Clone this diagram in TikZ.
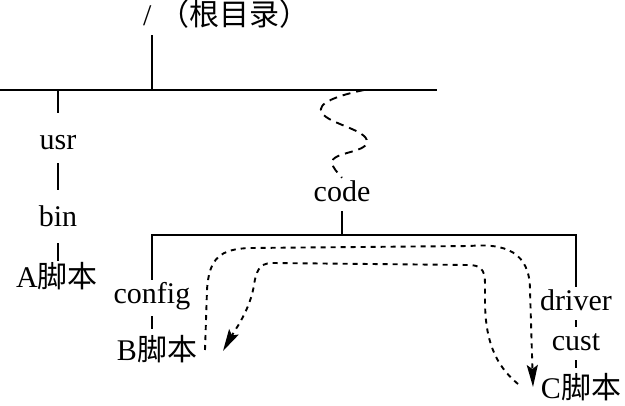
\documentclass[tikz,border=0pt]{standalone}
\usepackage{fontspec}
\setmainfont{Liberation Serif}
\newfontfamily\cjk{Noto Sans CJK SC}
\usetikzlibrary{arrows.meta}
\begin{document}
\begin{tikzpicture}[x=1pt,y=-1pt,
  lbl/.style={font=\fontsize{30}{36}\selectfont, inner xsep=2pt, inner ysep=3pt,
              text height=21pt, text depth=6pt, anchor=base},
  tree/.style={line width=2pt},
  dotpath/.style={line width=1.9pt, dash pattern=on 5pt off 5pt},
  wavy/.style={line width=1.9pt, dash pattern=on 8pt off 6pt},
  tipend/.style={-{Stealth[length=22pt,width=11pt,inset=4pt]}}]
\useasboundingbox (0,0) rectangle (625,406);
% root
\node[lbl, anchor=base west] (root) at (141,26) {/ {\cjk （根目录）}};
\coordinate (bl) at (0,90);
\coordinate (br) at (437,90);
\coordinate (rj) at (152,90);
\coordinate (uj) at (58,90);
\coordinate (w0) at (364,90);
\draw[tree] (bl) -- (br);
\draw[tree] (rj) -- (rj |- root.south);
% usr branch
\node[lbl] (usr) at (58,150) {usr};
\node[lbl] (bin) at (58,227) {bin};
\node[lbl] (A) at (57,288) {A{\cjk 脚本}};
\draw[tree, shorten >=13pt] (uj) -- (usr.north);
\draw[tree, shorten <=4pt, shorten >=13pt] (usr.south) -- (bin.north);
\draw[tree, shorten <=7pt, shorten >=3pt] (bin.south) -- (bin.south |- A.north);
% code branch
\node[lbl] (code) at (342,202) {code};
\draw[wavy] (w0) .. controls (340,95) and (315,103) .. (322,113)
  .. controls (329,124) and (368,130) .. (367,142)
  .. controls (366,153) and (331,152) .. (332,163)
  .. controls (333,168) and (337,172) .. (code.north);
\coordinate (cl) at (152,235);
\coordinate (cr) at (576,235);
\node[lbl] (config) at (152,304) {config};
\node[lbl] (B) at (157,361) {B{\cjk 脚本}};
\node[lbl] (driver) at (576,311) {driver};
\node[lbl] (cust) at (576,351) {cust};
\node[lbl] (C) at (581,399) {C{\cjk 脚本}};
\draw[tree] (code.south) -- (code.south |- cl);
\draw[tree] (config.north) -- (cl) -- (cr) -- (driver.north);
\draw[tree, shorten <=3pt, shorten >=8pt] (config.south) -- (config.south |- B.north);
\draw[tree] (driver.south) -- (cust.north);
\draw[tree, shorten >=7pt] (cust.south) -- (cust.south |- C.north);
% dotted paths
\coordinate (os) at (205,350);
\coordinate (ot) at (533,387);
\coordinate (is) at (518,384);
\coordinate (it) at (223,351);
\draw[dotpath, tipend] (os) -- (207,290) .. controls (209,258) and (220,249) .. (250,248)
  -- (470,246) .. controls (505,243) and (530,252) .. (530,290) -- (ot);
\draw[dotpath, tipend] (is) .. controls (495,365) and (485,340) .. (485,300)
  -- (485,283) .. controls (485,269) and (480,265) .. (468,265)
  -- (272,263) .. controls (259,263) and (256,272) .. (254,285)
  .. controls (250,310) and (235,330) .. (it);
\end{tikzpicture}
\end{document}
